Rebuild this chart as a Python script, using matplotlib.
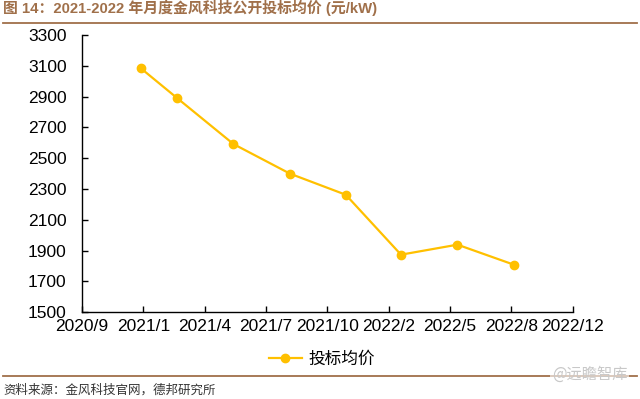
import datetime as dt
import matplotlib
matplotlib.use("Agg")
import matplotlib.pyplot as plt
import matplotlib.dates as mdates
from matplotlib.lines import Line2D
from matplotlib.ticker import FuncFormatter

plt.rcParams['font.family'] = ['Liberation Sans', 'Noto Sans CJK SC', 'DejaVu Sans']

# --- data ---
dates = ["2020-12-31", "2021-02-28", "2021-05-31", "2021-08-31",
         "2021-11-30", "2022-02-28", "2022-05-31", "2022-08-31"]
prices = [3084, 2891, 2592, 2400, 2263, 1874, 1939, 1809]
series_name = "投标均价"

title = "图 14：2021-2022 年月度金风科技公开投标均价 (元/kW)"
source = "资料来源：金风科技官网，德邦研究所"
watermark = "@远瞻智库"

# axis set up like the Excel date axis: start + 100-day major unit
axis_start = dt.date(2020, 9, 26)
major_days = 100
n_ticks = 9

brown = "#A0704A"
gold = "#FFC000"

x = [dt.datetime.strptime(d, "%Y-%m-%d") for d in dates]

fig = plt.figure(figsize=(6.4, 3.99), dpi=100)
ax = fig.add_axes([0.128, 0.2173, 0.767, 0.695])

ax.plot(x, prices, color=gold, linewidth=1.6, marker='o', markersize=6,
        markeredgecolor=gold, markerfacecolor=gold, clip_on=False)

tick_dates = [axis_start + dt.timedelta(days=major_days * i) for i in range(n_ticks)]
ax.set_xlim(tick_dates[0], tick_dates[-1])
ax.set_xticks(tick_dates)
ax.xaxis.set_major_formatter(FuncFormatter(
    lambda v, pos: f"{mdates.num2date(v).year}/{mdates.num2date(v).month}"))

ax.set_ylim(1500, 3300)
ax.set_yticks(range(1500, 3301, 200))

for s in ['top', 'right']:
    ax.spines[s].set_visible(False)
for s in ['left', 'bottom']:
    ax.spines[s].set_linewidth(1.0)
    ax.spines[s].set_color('black')
ax.tick_params(axis='both', direction='in', length=4, width=1, labelsize=12.5,
               colors='black')
ax.tick_params(axis='x', pad=5)
ax.tick_params(axis='y', pad=11)

# legend under the plot
handle = Line2D([], [], color=gold, linewidth=1.6, marker='o', markersize=6)
fig.legend([handle], [series_name], loc='center', bbox_to_anchor=(0.503, 0.100),
           frameon=False, handlelength=2.0, handletextpad=0.4,
           prop={'family': ['Noto Sans CJK SC'], 'size': 12})

# title, rules and source
fig.text(0.005, 0.979, title, color=brown, fontsize=10.7, fontweight='bold',
         ha='left', va='center', family=['Liberation Sans', 'Noto Sans CJK SC'])
fig.add_artist(Line2D([0.005, 0.995], [1 - 22.7 / 399] * 2, color=brown, linewidth=1.3))
fig.add_artist(Line2D([0.005, 0.995], [1 - 376 / 399] * 2, color=brown, linewidth=1.3))
fig.text(0.005, 1 - 390 / 399, source, color='#333333', fontsize=9,
         ha='left', va='center', family=['Noto Sans CJK SC'])
fig.text(0.98, 1 - 374 / 399, watermark, color='#C8C8C8', fontsize=11,
         ha='right', va='center', family=['Noto Sans CJK SC'],
         bbox=dict(facecolor='white', edgecolor='none', pad=1, alpha=0.6))

fig.savefig("out.png", dpi=100)
